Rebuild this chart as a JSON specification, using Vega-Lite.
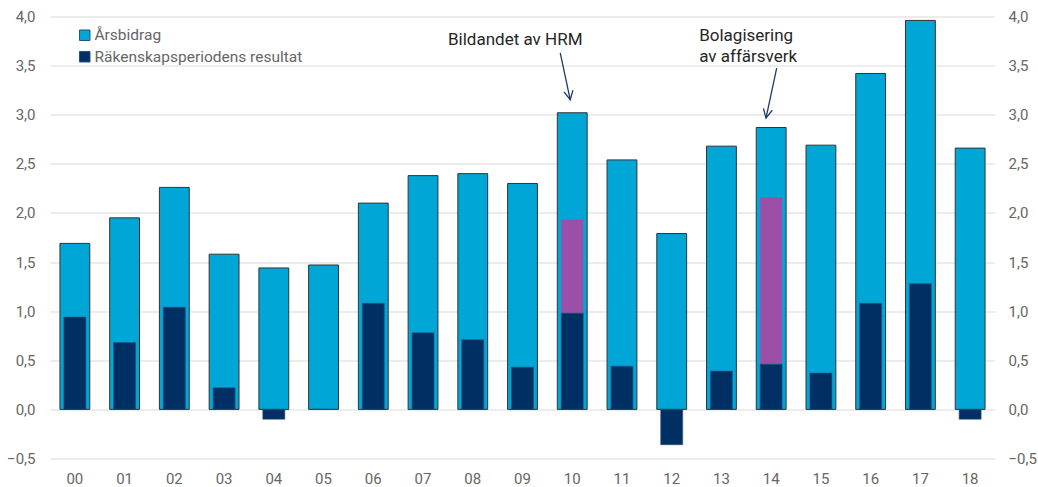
{
  "$schema": "https://vega.github.io/schema/vega-lite/v6.json",
  "width": 945,
  "height": 442,
  "autosize": {"type": "none"},
  "padding": {"left": 50, "top": 16.5, "right": 43, "bottom": 28.5},
  "background": "white",
  "config": {
    "locale": {"number": {"decimal": ",", "thousands": " ", "grouping": [3], "currency": ["", " kr"]}},
    "font": "Roboto",
    "view": {"stroke": null},
    "axis": {"labelFont": "Roboto", "labelFontSize": 15, "labelColor": "#666666", "domain": false, "ticks": false, "title": null},
    "legend": {"labelFont": "Roboto"}
  },
  "datasets": {
    "main": [
      {"year": "00", "arsbidrag": 1.69, "resultat": 0.94, "tillagg": null},
      {"year": "01", "arsbidrag": 1.95, "resultat": 0.68, "tillagg": null},
      {"year": "02", "arsbidrag": 2.26, "resultat": 1.04, "tillagg": null},
      {"year": "03", "arsbidrag": 1.58, "resultat": 0.22, "tillagg": null},
      {"year": "04", "arsbidrag": 1.44, "resultat": -0.10, "tillagg": null},
      {"year": "05", "arsbidrag": 1.47, "resultat": 0.0, "tillagg": null},
      {"year": "06", "arsbidrag": 2.10, "resultat": 1.08, "tillagg": null},
      {"year": "07", "arsbidrag": 2.38, "resultat": 0.78, "tillagg": null},
      {"year": "08", "arsbidrag": 2.40, "resultat": 0.71, "tillagg": null},
      {"year": "09", "arsbidrag": 2.30, "resultat": 0.43, "tillagg": null},
      {"year": "10", "arsbidrag": 3.02, "resultat": 0.98, "tillagg": 1.93},
      {"year": "11", "arsbidrag": 2.54, "resultat": 0.44, "tillagg": null},
      {"year": "12", "arsbidrag": 1.79, "resultat": -0.36, "tillagg": null},
      {"year": "13", "arsbidrag": 2.68, "resultat": 0.39, "tillagg": null},
      {"year": "14", "arsbidrag": 2.87, "resultat": 0.46, "tillagg": 2.16},
      {"year": "15", "arsbidrag": 2.69, "resultat": 0.37, "tillagg": null},
      {"year": "16", "arsbidrag": 3.42, "resultat": 1.08, "tillagg": null},
      {"year": "17", "arsbidrag": 3.96, "resultat": 1.28, "tillagg": null},
      {"year": "18", "arsbidrag": 2.66, "resultat": -0.10, "tillagg": null}
    ]
  },
  "data": {"name": "main"},
  "encoding": {
    "x": {
      "field": "year", "type": "nominal", "sort": null,
      "scale": {"paddingInner": 0.4, "paddingOuter": 0.2},
      "axis": {"labelAngle": 0, "labelPadding": 13, "grid": false}
    }
  },
  "layer": [
    {
      "mark": {"type": "bar", "stroke": "#333333", "strokeWidth": 1},
      "encoding": {
        "y": {
          "field": "arsbidrag", "type": "quantitative",
          "scale": {"domain": [-0.5, 4], "nice": false},
          "axis": {"orient": "left", "format": ".1f", "tickCount": 9, "grid": true, "gridColor": "#d9d9d9", "labelPadding": 15}
        },
        "color": {
          "datum": "Årsbidrag", "type": "nominal",
          "scale": {"domain": ["Årsbidrag", "Räkenskapsperiodens resultat"], "range": ["#00A6D6", "#003063"]},
          "legend": {
            "title": null, "orient": "none", "legendX": 27, "legendY": 11,
            "symbolType": "square", "symbolSize": 110, "symbolStrokeColor": "#404040", "symbolStrokeWidth": 1,
            "labelFontSize": 15.5, "labelColor": "#666666", "labelOffset": 2, "labelLimit": 400, "rowPadding": 4.5, "padding": 0
          }
        }
      }
    },
    {
      "transform": [{"filter": "datum.tillagg != null"}],
      "mark": {"type": "bar", "width": 22, "color": "#9C4FA6"},
      "encoding": {
        "y": {"field": "resultat", "type": "quantitative", "axis": null},
        "y2": {"field": "tillagg"}
      }
    },
    {
      "mark": {"type": "bar", "width": 22, "stroke": "#1d5585", "strokeWidth": 0.6},
      "encoding": {
        "y": {
          "field": "resultat", "type": "quantitative",
          "axis": {"orient": "right", "format": ".1f", "tickCount": 9, "grid": false, "labelPadding": 13}
        },
        "color": {"datum": "Räkenskapsperiodens resultat", "type": "nominal"}
      }
    },
    {
      "data": {"values": [{}]},
      "mark": {"type": "rule", "color": "#1F3A68", "strokeWidth": 1.3, "xOffset": -12, "x2Offset": -2},
      "encoding": {
        "x": {"datum": "10"}, "x2": {"datum": "10"},
        "y": {"datum": 3.63, "type": "quantitative", "axis": null}, "y2": {"datum": 3.152}
      }
    },
    {
      "data": {"values": [{}]},
      "mark": {"type": "point", "shape": "M-0.55,-1.1L0,0L0.55,-1.1", "filled": false, "color": "#1F3A68", "strokeWidth": 1.3, "size": 270, "xOffset": -2, "angle": -11, "opacity": 1},
      "encoding": {
        "x": {"datum": "10"},
        "y": {"datum": 3.152, "type": "quantitative", "axis": null}
      }
    },
    {
      "data": {"values": [{}]},
      "mark": {"type": "rule", "color": "#1F3A68", "strokeWidth": 1.3, "xOffset": 5.5, "x2Offset": -5.2},
      "encoding": {
        "x": {"datum": "14"}, "x2": {"datum": "14"},
        "y": {"datum": 3.475, "type": "quantitative", "axis": null}, "y2": {"datum": 2.965}
      }
    },
    {
      "data": {"values": [{}]},
      "mark": {"type": "point", "shape": "M-0.55,-1.1L0,0L0.55,-1.1", "filled": false, "color": "#1F3A68", "strokeWidth": 1.3, "size": 270, "xOffset": -5.2, "angle": 12, "opacity": 1},
      "encoding": {
        "x": {"datum": "14"},
        "y": {"datum": 2.965, "type": "quantitative", "axis": null}
      }
    },
    {
      "data": {"values": [{}]},
      "mark": {"type": "text", "text": "Bildandet av HRM", "font": "Roboto", "fontSize": 17, "color": "#262626", "align": "center", "baseline": "alphabetic", "xOffset": -57},
      "encoding": {
        "x": {"datum": "10"},
        "y": {"datum": 3.712, "type": "quantitative", "axis": null}
      }
    },
    {
      "data": {"values": [{}]},
      "mark": {"type": "text", "text": ["Bolagisering", "av affärsverk"], "lineHeight": 21, "font": "Roboto", "fontSize": 17, "color": "#262626", "align": "left", "baseline": "alphabetic", "xOffset": -72},
      "encoding": {
        "x": {"datum": "14"},
        "y": {"datum": 3.755, "type": "quantitative", "axis": null}
      }
    }
  ],
  "resolve": {"axis": {"y": "independent"}}
}
